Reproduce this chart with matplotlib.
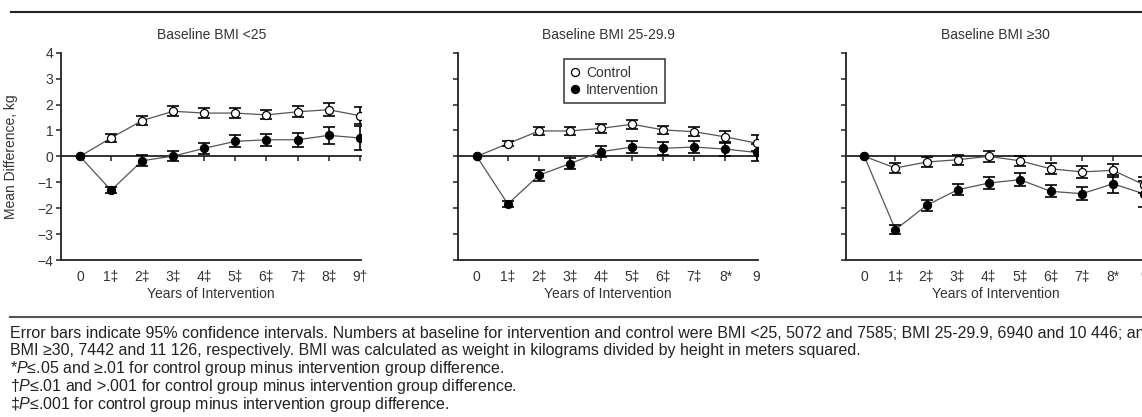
import matplotlib
matplotlib.use("Agg")
import matplotlib.pyplot as plt
from matplotlib.lines import Line2D

plt.rcParams['font.family'] = ['Liberation Sans', 'DejaVu Sans']
plt.rcParams['mathtext.fontset'] = 'custom'
plt.rcParams['mathtext.rm'] = 'Liberation Sans'
plt.rcParams['mathtext.it'] = 'Liberation Sans:italic'

# mean difference in weight (kg) from baseline, with 95% CI half-widths
years = [0, 1, 2, 3, 4, 5, 6, 7, 8, 9]

ctrl_lt25 = [0, 0.71, 1.38, 1.74, 1.67, 1.67, 1.60, 1.72, 1.80, 1.57]
ctrl_lt25_ci = [0, 0.17, 0.17, 0.20, 0.20, 0.20, 0.17, 0.22, 0.26, 0.32]
intv_lt25 = [0, -1.31, -0.17, 0.01, 0.31, 0.58, 0.64, 0.64, 0.81, 0.71]
intv_lt25_ci = [0, 0.12, 0.22, 0.20, 0.22, 0.23, 0.23, 0.26, 0.34, 0.48]

ctrl_25_30 = [0, 0.49, 0.98, 0.98, 1.08, 1.24, 1.02, 0.95, 0.75, 0.51]
ctrl_25_30_ci = [0, 0.10, 0.16, 0.16, 0.16, 0.18, 0.17, 0.18, 0.23, 0.30]
intv_25_30 = [0, -1.84, -0.73, -0.28, 0.18, 0.36, 0.31, 0.36, 0.28, 0.15]
intv_25_30_ci = [0, 0.10, 0.22, 0.21, 0.22, 0.22, 0.25, 0.22, 0.26, 0.32]

ctrl_ge30 = [0, -0.45, -0.22, -0.13, 0.0, -0.17, -0.48, -0.60, -0.54, -1.10]
ctrl_ge30_ci = [0, 0.19, 0.19, 0.19, 0.20, 0.20, 0.22, 0.24, 0.24, 0.30]
intv_ge30 = [0, -2.83, -1.89, -1.29, -1.03, -0.90, -1.35, -1.44, -1.06, -1.45]
intv_ge30_ci = [0, 0.17, 0.22, 0.22, 0.22, 0.26, 0.23, 0.24, 0.34, 0.50]

titles = ['Baseline BMI <25', 'Baseline BMI 25-29.9', 'Baseline BMI \u226530']
xlabels_lt25 = ['0', '1\u2021', '2\u2021', '3\u2021', '4\u2021', '5\u2021', '6\u2021', '7\u2021', '8\u2021', '9\u2020']
xlabels_25_30 = ['0', '1\u2021', '2\u2021', '3\u2021', '4\u2021', '5\u2021', '6\u2021', '7\u2021', '8*', '9']
xlabels_ge30 = ['0', '1\u2021', '2\u2021', '3\u2021', '4\u2021', '5\u2021', '6\u2021', '7\u2021', '8*', '9']

panels = [
    (ctrl_lt25, ctrl_lt25_ci, intv_lt25, intv_lt25_ci, xlabels_lt25),
    (ctrl_25_30, ctrl_25_30_ci, intv_25_30, intv_25_30_ci, xlabels_25_30),
    (ctrl_ge30, ctrl_ge30_ci, intv_ge30, intv_ge30_ci, xlabels_ge30),
]

caption = [
    'Error bars indicate 95% confidence intervals. Numbers at baseline for intervention and control were '
    'BMI <25, 5072 and 7585; BMI 25-29.9, 6940 and 10 446; and',
    'BMI \u226530, 7442 and 11 126, respectively. BMI was calculated as weight in kilograms divided by height in meters squared.',
    '*$\\mathit{P}$\u2264.05 and \u2265.01 for control group minus intervention group difference.',
    '\u2020$\\mathit{P}$\u2264.01 and >.001 for control group minus intervention group difference.',
    '\u2021$\\mathit{P}$\u2264.001 for control group minus intervention group difference.',
]

W, H = 1142, 417
fig = plt.figure(figsize=(W / 100, H / 100), dpi=100)
txt = '#333333'

# axes left edges in pixels, each 300 px wide
lefts = [61.3, 458.1, 845.7]
for i, (c, cci, iv, ivci, xl) in enumerate(panels):
    ax = fig.add_axes([lefts[i] / W, 1 - 260 / H, 300 / W, 207.3 / H])
    ax.set_xlim(-0.6, 9.05)
    ax.set_ylim(-4, 4)

    for vals, ci, face in [(c, cci, 'white'), (iv, ivci, 'black')]:
        ax.plot(years, vals, color='#555555', lw=0.9, zorder=2)
        ax.errorbar(years[1:], vals[1:], yerr=ci[1:], fmt='none', ecolor='black',
                    elinewidth=1.2, capsize=4.5, capthick=1.2, zorder=3)
        ax.plot(years, vals, ls='none', marker='o', ms=5.8, mfc=face, mec='black',
                mew=0.9, zorder=4)

    for s in ['top', 'right']:
        ax.spines[s].set_visible(False)
    for s in ['left', 'bottom']:
        ax.spines[s].set_linewidth(1.3)
        ax.spines[s].set_color('#222222')

    ax.set_xticks(years, labels=xl)
    ax.tick_params(axis='x', length=0, pad=7, labelsize=10, labelcolor=txt)
    ax.set_yticks(range(-4, 5))
    ax.tick_params(axis='y', direction='out', length=3.8, width=1.1, pad=2,
                   labelsize=10, labelcolor=txt, color='#222222')
    if i == 0:
        ax.set_yticklabels(['\u22124', '\u22123', '\u22122', '\u22121', '0', '1', '2', '3', '4'])
        ax.set_ylabel('Mean Difference, kg', fontsize=10, color=txt)
        ax.yaxis.set_label_coords(-0.144, 0.5)
    else:
        ax.tick_params(axis='y', labelleft=False)

    ax.set_xlabel('Years of Intervention', fontsize=10, color=txt, labelpad=2)
    ax.set_title(titles[i], fontsize=10, color=txt, pad=10)

    # zero reference line with ticks hanging below it
    zero = ax.secondary_xaxis(0.5)
    zero.set_alignment('bottom')
    zero.set_xticks(years)
    zero.tick_params(axis='x', direction='out', length=3.8, width=1.1,
                     bottom=True, top=False, labelbottom=False, labeltop=False,
                     color='#222222')
    zero.spines['bottom'].set_linewidth(1.3)
    zero.spines['bottom'].set_color('#222222')

    if i == 1:
        h_c = Line2D([], [], ls='none', marker='o', ms=5.8, mfc='white', mec='black', mew=0.9)
        h_i = Line2D([], [], ls='none', marker='o', ms=5.8, mfc='black', mec='black', mew=0.9)
        leg = ax.legend([h_c, h_i], ['Control', 'Intervention'], loc='upper left',
                        bbox_to_anchor=(0.354, 0.968), fontsize=10, frameon=True,
                        fancybox=False, handlelength=0.6, handletextpad=0.5,
                        borderpad=0.45, labelspacing=0.25, borderaxespad=0)
        leg.get_frame().set_edgecolor('black')
        leg.get_frame().set_linewidth(1.1)
        for t in leg.get_texts():
            t.set_color(txt)

# horizontal rules above the panels and above the notes
fig.add_artist(Line2D([11 / W, 1], [1 - 12 / H, 1 - 12 / H], color='#222222', lw=1.5))
fig.add_artist(Line2D([10 / W, 1], [1 - 317 / H, 1 - 317 / H], color='#555555', lw=1.5))

for k, line in enumerate(caption):
    fig.text(10 / W, 1 - (333 + 18 * k) / H, line, fontsize=11.55, color='#222222',
             va='center', ha='left')

fig.savefig('out.png', dpi=100)
